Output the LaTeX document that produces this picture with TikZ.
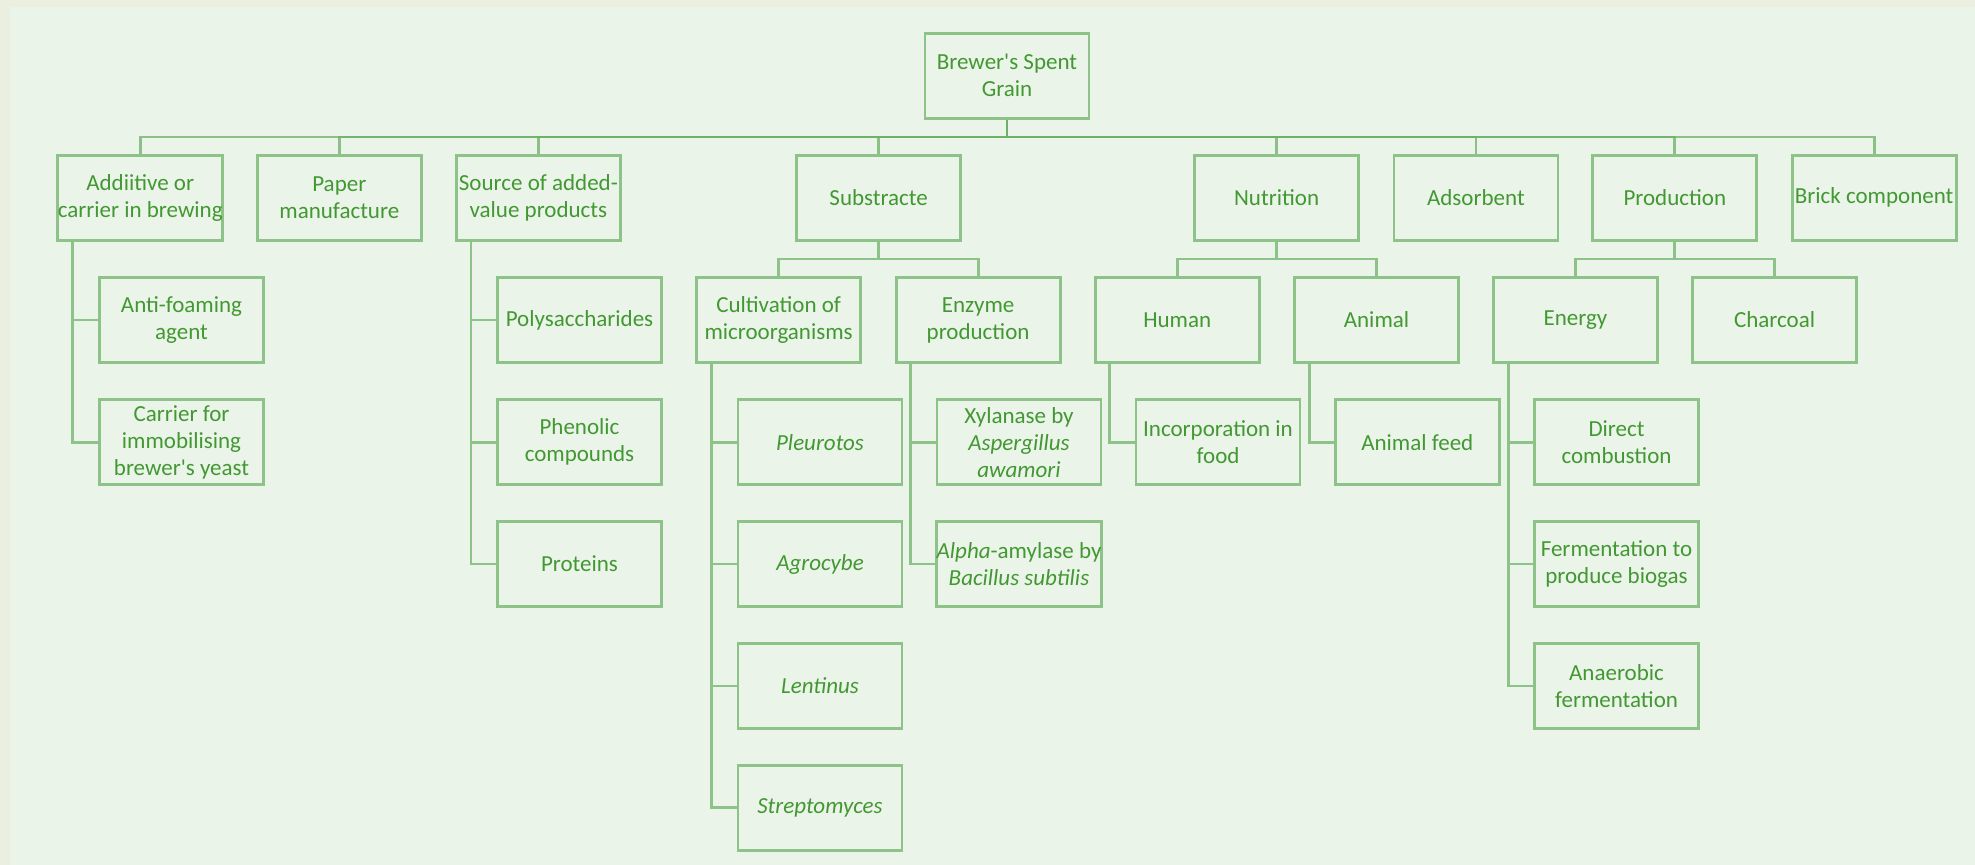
\documentclass[tikz,border=0pt]{standalone}
\usepackage{fontspec}
\setmainfont{Carlito}[Ligatures=TeXOff]
\usetikzlibrary{calc}

\definecolor{bgout}{RGB}{235,239,223}
\definecolor{bgin}{RGB}{235,244,233}
\definecolor{edge}{RGB}{141,195,137}
\definecolor{edgedeep}{RGB}{110,175,105}
\definecolor{ink}{RGB}{66,152,50}

\tikzset{
  box/.style={draw=edge, line width=1.4pt, minimum width=82pt, minimum height=42.5pt,
    inner sep=0pt, align=center, text=ink,
    font=\fontsize{11.5pt}{13.5pt}\selectfont},
  rootlink/.style={draw=edgedeep, draw opacity=0.75, line width=1.4pt},
  link/.style={draw=edge, line width=1.4pt},
}

\begin{document}
\begin{tikzpicture}[x=0.5pt, y=-0.5pt]
  % page and panel background
  \fill[bgout] (0,0) rectangle (1975,865);
  \fill[bgin] (10,7) rectangle (1975,865);
  \useasboundingbox (0,0) rectangle (1975,865);

  % bus levels
  \coordinate (bus) at (0,137);
  \coordinate (subbus) at (0,259);

  % root
  \node[box] (root) at (1007,75.7) {Brewer's Spent\\Grain};

  % first level
  \node[box] (add)   at (140.2,197.7)  {Addiitive or\\carrier in brewing};
  \node[box] (paper) at (339.3,197.7)  {Paper\\manufacture};
  \node[box] (src)   at (538.4,197.7)  {Source of added-\\value products};
  \node[box] (subs)  at (878.6,197.7)  {Substracte};
  \node[box] (nutr)  at (1276.6,197.7) {Nutrition};
  \node[box] (adsb)  at (1475.9,197.7) {Adsorbent};
  \node[box] (prod)  at (1674.8,197.7) {Production};
  \node[box] (brick) at (1874.1,197.7) {Brick component};

  % second level
  \node[box] (cult)   at (778.6,320)  {Cultivation of\\microorganisms};
  \node[box] (enz)    at (978.1,320)  {Enzyme\\production};
  \node[box] (human)  at (1177.2,320) {Human};
  \node[box] (animal) at (1376.5,320) {Animal};
  \node[box] (energy) at (1575.5,320) {Energy};
  \node[box] (char)   at (1774.6,320) {Charcoal};

  % leaves
  \node[box] (anti)    at (181.5,320)   {Anti-foaming\\agent};
  \node[box] (carrier) at (181.5,442.3) {Carrier for\\immobilising\\brewer's yeast};
  \node[box] (poly)    at (579.5,320)   {Polysaccharides};
  \node[box] (phen)    at (579.5,442.3) {Phenolic\\compounds};
  \node[box] (prot)    at (579.5,564)   {Proteins};
  \node[box] (pleu)    at (820,442.3)   {\textit{Pleurotos}};
  \node[box] (agro)    at (820,564)     {\textit{Agrocybe}};
  \node[box] (lent)    at (820,686)     {\textit{Lentinus}};
  \node[box] (strep)   at (820,807.7)   {\textit{Streptomyces}};
  \node[box] (xyl)     at (1019,442.3)  {Xylanase by\\\textit{Aspergillus}\\\textit{awamori}};
  \node[box] (alpha)   at (1019,564)    {\textit{Alpha}-amylase by\\\textit{Bacillus subtilis}};
  \node[box] (incorp)  at (1218,442.3)  {Incorporation in\\food};
  \node[box] (feed)    at (1417.3,442.3){Animal feed};
  \node[box] (direct)  at (1616.5,442.3){Direct\\combustion};
  \node[box] (ferm)    at (1616.5,564)  {Fermentation to\\produce biogas};
  \node[box] (anaer)   at (1616.5,686)  {Anaerobic\\fermentation};

  % root to first level
  \foreach \c in {add,paper,src,subs,nutr,adsb,prod,brick}
    \draw[rootlink] (root.south) -- (root.south |- bus) -| (\c.north);

  % first to second level
  \foreach \p/\c in {subs/cult,subs/enz,nutr/human,nutr/animal,prod/energy,prod/char}
    \draw[link] (\p.south) -- (\p.south |- subbus) -| (\c.north);

  % spines down to the leaves
  \foreach \p/\c in {add/anti,add/carrier,src/poly,src/phen,src/prot,
                     cult/pleu,cult/agro,cult/lent,cult/strep,enz/xyl,enz/alpha,
                     human/incorp,animal/feed,energy/direct,energy/ferm,energy/anaer}
    \draw[link] ([xshift=8pt]\p.south west) |- (\c.west);
\end{tikzpicture}
\end{document}
